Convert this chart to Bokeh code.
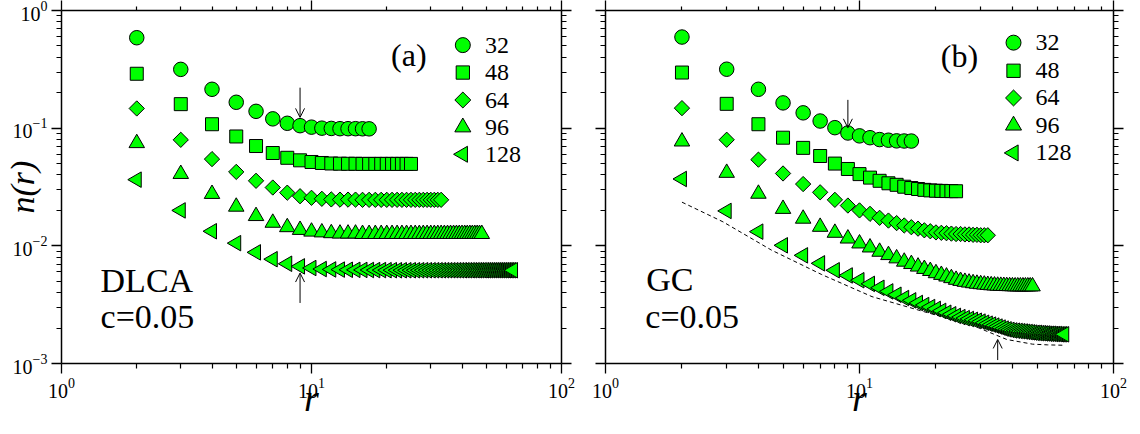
import math
from bokeh.plotting import figure
from bokeh.models import (LinearAxis, FixedTicker, Label, Arrow, OpenHead,
                          CustomJSTickFormatter, Range1d)
from bokeh.layouts import row
from bokeh.embed import file_html
from bokeh.resources import INLINE
from bokeh.core.properties import value

# ---------------- data ----------------
sizes = ["32", "48", "64", "96", "128"]
x_major = [1, 10, 100]
x_minor = [2, 3, 4, 5, 6, 7, 8, 9, 20, 30, 40, 50, 60, 70, 80, 90]
y_major = [0.001, 0.01, 0.1, 1]
y_minor = [0.002, 0.003, 0.004, 0.005, 0.006, 0.007, 0.008, 0.009,
           0.02, 0.03, 0.04, 0.05, 0.06, 0.07, 0.08, 0.09,
           0.2, 0.3, 0.4, 0.5, 0.6, 0.7, 0.8, 0.9]

# panel (a) DLCA
r_a_32 = list(range(2, 18))
n_a_32 = [0.587, 0.316, 0.214, 0.166, 0.139, 0.120, 0.110, 0.105, 0.102, 0.100,
          0.0995, 0.099, 0.099, 0.099, 0.0988, 0.0987]
r_a_48 = list(range(2, 26))
n_a_48 = [0.29, 0.16, 0.108, 0.085, 0.0705, 0.0615, 0.056, 0.0533, 0.0516, 0.0506,
          0.0501, 0.0499, 0.0498, 0.0498, 0.0497, 0.0497, 0.0497, 0.0497, 0.0497,
          0.0497, 0.0497, 0.0497, 0.0497, 0.0497]
r_a_64 = list(range(2, 34))
n_a_64 = [0.147, 0.0796, 0.0546, 0.0425, 0.0357, 0.0313, 0.0283, 0.0264, 0.0256, 0.0251,
          0.0248, 0.0247, 0.0247, 0.0247, 0.0246, 0.0246, 0.0246, 0.0246, 0.0246, 0.0246,
          0.0246, 0.0246, 0.0246, 0.0246, 0.0246, 0.0246, 0.0246, 0.0246, 0.0246, 0.0246,
          0.0246, 0.0246]
r_a_96 = list(range(2, 49))
n_a_96 = [0.0746, 0.0408, 0.0276, 0.0215, 0.0179, 0.0157, 0.0144, 0.01365, 0.0132, 0.0130,
          0.0128, 0.0127, 0.0127, 0.0127, 0.0126, 0.0126, 0.0126, 0.0126, 0.0126, 0.0126,
          0.0126, 0.0126, 0.0126, 0.0126, 0.0126, 0.0126, 0.0126, 0.0126, 0.0126, 0.0126,
          0.0126, 0.0126, 0.0126, 0.0126, 0.0126, 0.0126, 0.0126, 0.0126, 0.0126, 0.0126,
          0.0126, 0.0126, 0.0126, 0.0126, 0.0126, 0.0126, 0.0126]
r_a_128 = list(range(2, 65))
n_a_128 = [0.0365, 0.0200, 0.0133, 0.01054, 0.0088, 0.0077, 0.00704, 0.00669, 0.00648, 0.00635,
           0.0063, 0.00628, 0.00626, 0.00625, 0.00624, 0.00623, 0.00622, 0.00622, 0.00621, 0.00621,
           0.0062, 0.0062, 0.0062, 0.0062, 0.0062, 0.0062, 0.0062, 0.0062, 0.0062, 0.0062,
           0.0062, 0.0062, 0.0062, 0.0062, 0.0062, 0.0062, 0.0062, 0.0062, 0.0062, 0.0062,
           0.0062, 0.0062, 0.0062, 0.0062, 0.0062, 0.0062, 0.0062, 0.0062, 0.0062, 0.0062,
           0.0062, 0.0062, 0.0062, 0.0062, 0.0062, 0.0062, 0.0062, 0.0062, 0.0062, 0.0062,
           0.0062, 0.0062, 0.0062]

# panel (b) GC
r_b_32 = list(range(2, 17))
n_b_32 = [0.595, 0.317, 0.214, 0.164, 0.135, 0.115, 0.101, 0.091, 0.086, 0.083,
          0.080, 0.079, 0.078, 0.0778, 0.0777]
r_b_48 = list(range(2, 25))
n_b_48 = [0.297, 0.161, 0.108, 0.083, 0.068, 0.058, 0.050, 0.045, 0.0407, 0.038,
          0.0357, 0.034, 0.033, 0.0318, 0.031, 0.0304, 0.0299, 0.0296, 0.0294, 0.0293,
          0.0292, 0.0292, 0.0291]
r_b_64 = list(range(2, 33))
n_b_64 = [0.148, 0.0797, 0.054, 0.0412, 0.0335, 0.0285, 0.0246, 0.022, 0.020, 0.0187,
          0.0173, 0.0164, 0.0156, 0.0149, 0.0144, 0.0140, 0.01355, 0.0133, 0.0130, 0.0129,
          0.0128, 0.0127, 0.0126, 0.0126, 0.0125, 0.0125, 0.0124, 0.0124, 0.0123, 0.0123,
          0.0123]
r_b_96 = list(range(2, 49))
n_b_96 = [0.077, 0.0417, 0.0277, 0.0206, 0.017, 0.0145, 0.0129, 0.01153, 0.01047, 0.00968,
          0.0089, 0.00834, 0.00782, 0.00733, 0.0070, 0.00666, 0.00636, 0.00611, 0.00585, 0.00566,
          0.00548, 0.00531, 0.00514, 0.00503, 0.00494, 0.00487, 0.00481, 0.00476, 0.00472, 0.00468,
          0.00465, 0.00462, 0.0046, 0.00458, 0.00457, 0.00456, 0.00455, 0.00454, 0.00453, 0.00452,
          0.00452, 0.00452, 0.00452, 0.00452, 0.00452, 0.00452, 0.00452]
r_b_128 = list(range(2, 65))
n_b_128 = [0.037, 0.0198, 0.0132, 0.0101, 0.0083, 0.0071, 0.0062, 0.0056, 0.0051, 0.00475,
           0.0044, 0.0041, 0.00384, 0.0036, 0.00344, 0.00327, 0.00314, 0.00302, 0.00291, 0.0028,
           0.0027, 0.00262, 0.00254, 0.00248, 0.00243, 0.00239, 0.00235, 0.00231, 0.00227, 0.00222,
           0.00218, 0.00214, 0.0021, 0.00206, 0.00202, 0.00198, 0.00195, 0.00193, 0.00191, 0.0019,
           0.00189, 0.00188, 0.00187, 0.00186, 0.00185, 0.00184, 0.00183, 0.00182, 0.00182, 0.00181,
           0.00181, 0.0018, 0.0018, 0.00179, 0.00179, 0.00179, 0.00178, 0.00178, 0.00178, 0.00177,
           0.00177, 0.00177, 0.00177]

# dashed reference curve in panel (b)
r_fit = [2, 2.9, 4.5, 7.1, 11.2, 17.5, 28, 38, 48, 55, 63]
n_fit = [0.0235, 0.016, 0.0092, 0.0057, 0.0037, 0.0028, 0.0021, 0.0016, 0.00146, 0.00144, 0.00143]

# arrows (x, y_start, y_end)
arrows_a = [(9, 0.221, 0.1235), (9, 0.00327, 0.00587)]
arrows_b = [(9, 0.174, 0.1007), (35, 0.00107, 0.0016)]

# ---------------- styling / placement ----------------
SERIF = "Liberation Serif"
GREEN = "#00ff00"
mk_types = ["circle", "square", "square", "triangle", "triangle"]
mk_sizes = [14.5, 13, 10.8, 15.5, 15.5]
mk_angles = [0.0, 0.0, math.pi / 4, 0.0, math.pi / 2]

# legend placement (data-space anchor of each legend row)
leg_a = dict(mx=40.3, tx=49.4, ys=[0.508, 0.297, 0.1735, 0.1018, 0.060])
leg_b = dict(mx=40.4, tx=49.3, ys=[0.533, 0.3074, 0.1806, 0.1055, 0.0616])


def style_axis(ax, labels=True, minor_out=5):
    ax.axis_line_color = "black"
    ax.axis_line_width = 1.5
    ax.major_tick_line_color = "black"
    ax.major_tick_line_width = 1.3
    ax.minor_tick_line_color = "black"
    ax.minor_tick_line_width = 1.2
    ax.major_tick_in = 0
    ax.major_tick_out = 10
    ax.minor_tick_in = 0
    ax.minor_tick_out = minor_out
    ax.major_label_text_font = SERIF
    ax.major_label_text_color = "black"
    ax.axis_label_text_font = SERIF
    ax.axis_label_text_font_style = "italic"
    ax.axis_label_text_color = "black"
    if labels:
        ax.major_label_text_font_size = "20px"
        ax.major_label_standoff = 4
    else:
        ax.formatter = CustomJSTickFormatter(code="return ''")
        ax.major_label_text_font_size = "0px"
        ax.major_label_standoff = 0


def make_panel(series, tag, name, leg, left_border, right_border, width,
               show_ylabels, arrows, text_pos, fit=None):
    p = figure(width=width, height=426, x_axis_type="log", y_axis_type="log",
               x_range=Range1d(1, 100), y_range=Range1d(0.001, 1),
               output_backend="svg", toolbar_location=None,
               min_border_left=left_border, min_border_right=right_border,
               min_border_top=8, min_border_bottom=63)
    p.grid.visible = False
    p.outline_line_color = None
    p.background_fill_color = "white"
    p.border_fill_color = "white"

    xa = p.xaxis[0]
    xa.ticker = FixedTicker(ticks=x_major, minor_ticks=x_minor)
    style_axis(xa)
    xa.axis_label = "r"
    xa.axis_label_text_font_size = "38px"
    xa.axis_label_standoff = -24

    ya = p.yaxis[0]
    ya.ticker = FixedTicker(ticks=y_major, minor_ticks=y_minor)
    style_axis(ya, show_ylabels)
    if show_ylabels:
        ya.axis_label = "n(r)"
        ya.axis_label_text_font_size = "34px"
        ya.axis_label_standoff = -31

    top = LinearAxis(ticker=FixedTicker(ticks=x_major, minor_ticks=x_minor))
    style_axis(top, False, minor_out=4)
    p.add_layout(top, "above")
    right = LinearAxis(ticker=FixedTicker(ticks=y_major, minor_ticks=y_minor))
    style_axis(right, False)
    p.add_layout(right, "right")

    if fit is not None:
        p.line(fit[0], fit[1], line_color="black", line_width=1, line_dash="4 3")

    for (rr, nn), mk, sz, ang in zip(series, mk_types, mk_sizes, mk_angles):
        p.scatter(rr, nn, marker=mk, size=sz, angle=ang, fill_color=GREEN,
                  line_color="black", line_width=1)

    # legend
    p.scatter(x=[leg["mx"]] * len(sizes), y=leg["ys"], marker=mk_types,
              size=[15, 13.3, 11.3, 16, 16], angle=mk_angles,
              fill_color=GREEN, line_color="black", line_width=1)
    p.text(x=[leg["tx"]] * len(sizes), y=leg["ys"], text=sizes,
           text_font=value(SERIF), text_font_size="24px", text_color="black",
           text_align="left", text_baseline="middle")

    for (ax_, y0, y1) in arrows:
        p.add_layout(Arrow(end=OpenHead(size=9, line_width=1, line_color="black"),
                           x_start=ax_, y_start=y0, x_end=ax_, y_end=y1,
                           line_width=1, line_color="black"))

    (tx, ty), (nx, ny), (cx, cy) = text_pos
    p.add_layout(Label(x=tx, y=ty, text=tag, text_font=SERIF, text_font_size="32px",
                       text_baseline="alphabetic", text_color="black"))
    p.add_layout(Label(x=nx, y=ny, text=name, text_font=SERIF, text_font_size="34px",
                       text_baseline="alphabetic", text_color="black"))
    p.add_layout(Label(x=cx, y=cy, text="c=0.05", text_font=SERIF, text_font_size="34px",
                       text_baseline="alphabetic", text_color="black"))
    return p


series_a = [(r_a_32, n_a_32), (r_a_48, n_a_48), (r_a_64, n_a_64), (r_a_96, n_a_96), (r_a_128, n_a_128)]
series_b = [(r_b_32, n_b_32), (r_b_48, n_b_48), (r_b_64, n_b_64), (r_b_96, n_b_96), (r_b_128, n_b_128)]

p1 = make_panel(series_a, "(a)", "DLCA", leg_a, 55, 20, 581, True, arrows_a,
                [(20.8, 0.4206), (1.433, 0.00503), (1.433, 0.00253)])
p2 = make_panel(series_b, "(b)", "GC", leg_b, 24, 19, 551, False, arrows_b,
                [(20.9, 0.4088), (1.446, 0.00513), (1.435, 0.00252)], fit=(r_fit, n_fit))

layout = row(p1, p2)
open("out.html", "w").write(file_html(layout, INLINE))
